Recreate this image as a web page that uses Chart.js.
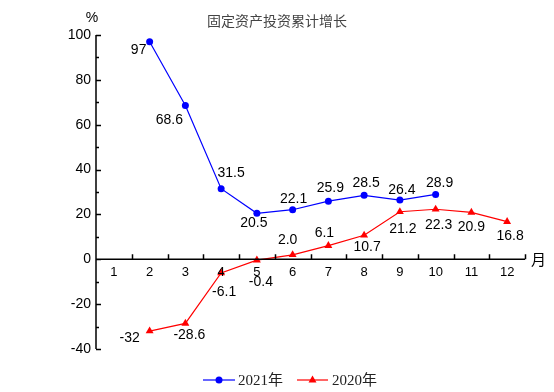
<!DOCTYPE html>
<html lang="zh">
<head>
  <meta charset="UTF-8">
  <title>固定资产投资累计增长</title>
  <style>
    body { margin: 0; background: #fff; }
    .chartBox { position: relative; width: 554px; height: 392px; }
  </style>
</head>
<body>
  <div class="chartBox">
    <canvas id="myChart"></canvas>
  </div>

<script src="https://cdn.jsdelivr.net/npm/chart.js/dist/chart.umd.min.js"></script>
<script>
  // data
  const months = ['1', '2', '3', '4', '5', '6', '7', '8', '9', '10', '11', '12'];
  const values2021 = [null, 97, 68.6, 31.5, 20.5, 22.1, 25.9, 28.5, 26.4, 28.9, null, null];
  const values2020 = [null, -32, -28.6, -6.1, -0.4, 2.0, 6.1, 10.7, 21.2, 22.3, 20.9, 16.8];
  const labels2021 = [null, '97', '68.6', '31.5', '20.5', '22.1', '25.9', '28.5', '26.4', '28.9', null, null];
  const labels2020 = [null, '-32', '-28.6', '-6.1', '-0.4', '2.0', '6.1', '10.7', '21.2', '22.3', '20.9', '16.8'];
  const yTicks = [-40, -20, 0, 20, 40, 60, 80, 100];

  // where each value label sits relative to its point [dx, dy]
  const offs2021 = [null, [-11, 8], [-16, 15], [10, -15], [-3, 10], [1, -11], [2, -13], [2, -12], [2, -10], [4, -11]];
  const offs2020 = [null, [-20, 7], [4, 12], [3, 19], [4, 22], [-5, -15], [-4, -12], [3, 12], [3, 17], [3, 16], [0, 15], [3, 15]];

  const numFont = '"Liberation Sans", Arial, sans-serif';

  const drawExtras = {
    id: 'drawExtras',
    afterDraw(chart) {
      const { ctx, chartArea, scales: { x, y } } = chart;
      const y0 = y.getPixelForValue(0);
      ctx.save();
      ctx.strokeStyle = '#000';
      ctx.lineWidth = 1.5;

      // y axis + inward ticks
      ctx.beginPath();
      ctx.moveTo(chartArea.left, chartArea.top);
      ctx.lineTo(chartArea.left, chartArea.bottom);
      for (let v = -40; v <= 100; v += 10) {
        const py = Math.round(y.getPixelForValue(v)) + 0.5;
        const len = v % 20 === 0 ? 5 : 3;
        ctx.moveTo(chartArea.left, py);
        ctx.lineTo(chartArea.left + len, py);
      }
      // x axis at zero + ticks between months
      ctx.moveTo(chartArea.left, y0);
      ctx.lineTo(chartArea.right, y0);
      const step = x.getPixelForValue(1) - x.getPixelForValue(0);
      for (let i = 1; i <= months.length; i++) {
        const px = Math.round(x.getPixelForValue(i - 1) + step / 2) + 0.5;
        ctx.moveTo(px, y0);
        ctx.lineTo(px, y0 - 5);
      }
      ctx.stroke();

      // month labels on the zero line
      ctx.fillStyle = '#000';
      ctx.font = '13px ' + numFont;
      ctx.textAlign = 'center';
      ctx.textBaseline = 'middle';
      months.forEach((m, i) => ctx.fillText(m, x.getPixelForValue(i), y0 + 13));

      ctx.font = '15px "Noto Sans CJK SC", sans-serif';
      ctx.textAlign = 'left';
      ctx.fillText('月', chartArea.right + 6, y0);

      ctx.font = '14px ' + numFont;
      ctx.textAlign = 'center';
      ctx.fillText('%', chartArea.left - 4, 18);

      // title
      ctx.fillStyle = '#444';
      ctx.font = '14px "Noto Sans CJK SC", sans-serif';
      ctx.fillText('固定资产投资累计增长', 277, 21);

      // value labels
      ctx.fillStyle = '#000';
      ctx.font = '14px ' + numFont;
      const putLabels = (dsIndex, texts, offs) => {
        chart.getDatasetMeta(dsIndex).data.forEach((pt, i) => {
          if (!texts[i]) return;
          ctx.fillText(texts[i], pt.x + offs[i][0], pt.y + offs[i][1]);
        });
      };
      putLabels(0, labels2021, offs2021);
      putLabels(1, labels2020, offs2020);

      // legend
      const ly = 380;
      ctx.lineWidth = 1.2;
      ctx.strokeStyle = '#0000ff';
      ctx.beginPath();
      ctx.moveTo(203, ly); ctx.lineTo(235, ly);
      ctx.stroke();
      ctx.fillStyle = '#0000ff';
      ctx.beginPath();
      ctx.arc(219, ly, 3.5, 0, Math.PI * 2);
      ctx.fill();

      ctx.strokeStyle = '#ff0000';
      ctx.beginPath();
      ctx.moveTo(297, ly); ctx.lineTo(328, ly);
      ctx.stroke();
      ctx.fillStyle = '#ff0000';
      ctx.beginPath();
      ctx.moveTo(312.5, ly - 4.5);
      ctx.lineTo(316.5, ly + 2.5);
      ctx.lineTo(308.5, ly + 2.5);
      ctx.closePath();
      ctx.fill();

      ctx.fillStyle = '#222';
      ctx.font = '15px "Liberation Serif", "Noto Sans CJK SC", serif';
      ctx.textAlign = 'left';
      ctx.fillText('2021年', 238, ly + 1);
      ctx.fillText('2020年', 332, ly + 1);
      ctx.restore();
    }
  };

  const data = {
    labels: months,
    datasets: [{
      label: '2021年',
      data: values2021,
      borderColor: '#0000ff',
      backgroundColor: '#0000ff',
      borderWidth: 1.2,
      pointStyle: 'circle',
      pointRadius: 3.5,
      pointBorderWidth: 0,
      spanGaps: false
    }, {
      label: '2020年',
      data: values2020,
      borderColor: '#ff0000',
      backgroundColor: '#ff0000',
      borderWidth: 1.2,
      pointStyle: 'triangle',
      pointRadius: 4.6,
      pointBorderWidth: 0
    }]
  };

  const config = {
    type: 'line',
    data,
    plugins: [drawExtras],
    options: {
      responsive: true,
      maintainAspectRatio: false,
      animation: false,
      layout: { padding: { left: 46, right: 29, top: 35, bottom: 43 } },
      scales: {
        x: {
          offset: true,
          grid: { display: false, drawTicks: false },
          border: { display: false },
          ticks: { display: false }
        },
        y: {
          min: -40,
          max: 100,
          afterFit: (scale) => { scale.width = 50; },
          afterBuildTicks: (scale) => { scale.ticks = yTicks.map(v => ({ value: v })); },
          grid: { display: false, drawTicks: false },
          border: { display: false },
          ticks: {
            color: '#000',
            padding: 5,
            font: { family: numFont, size: 14 }
          }
        }
      },
      plugins: {
        legend: { display: false },
        tooltip: { enabled: false },
        title: { display: false }
      }
    }
  };

  const myChart = new Chart(document.getElementById('myChart'), config);
</script>
</body>
</html>
